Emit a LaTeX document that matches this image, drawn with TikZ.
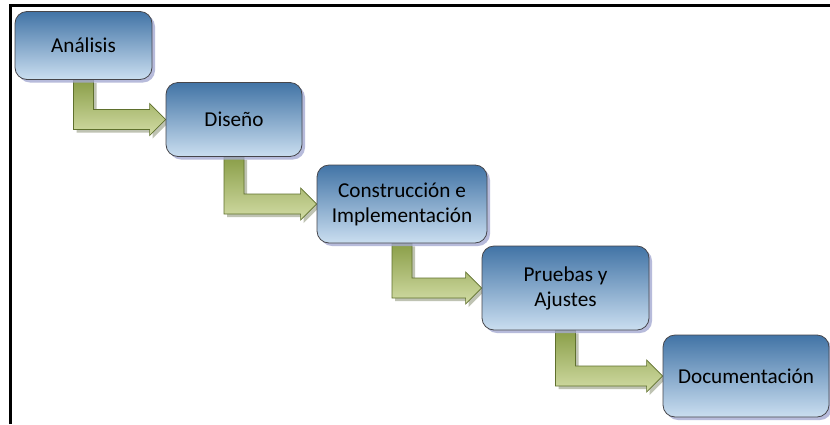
\documentclass[tikz,border=0pt]{standalone}
\usepackage{fontspec}
\setmainfont{Carlito}
\usetikzlibrary{calc,shadows,backgrounds}
\definecolor{boxtop}{RGB}{66,116,166}
\definecolor{boxbot}{RGB}{202,222,240}
\definecolor{boxline}{RGB}{70,70,75}
\definecolor{boxshadow}{RGB}{165,170,210}
\definecolor{arrtop}{RGB}{138,158,72}
\definecolor{arrbot}{RGB}{210,220,165}
\definecolor{arrline}{RGB}{95,112,45}
\definecolor{arrshadow}{RGB}{175,180,160}
\tikzset{
  stage/.style={draw=boxline, line width=0.8pt, rounded corners=12pt,
    top color=boxtop, bottom color=boxbot, align=center, inner sep=2pt,
    font=\fontsize{21.2}{25}\selectfont,
    general shadow={fill=boxshadow, opacity=0.8, shadow xshift=3pt, shadow yshift=-3pt}},
  flowarrow/.style={draw=arrline, line width=0.7pt, top color=arrtop, bottom color=arrbot,
    general shadow={fill=arrshadow, opacity=0.8, shadow xshift=3pt, shadow yshift=-3pt}},
  frameline/.style={line width=3pt, black}
}
\newcommand\flowstep[2]{%
  \path[flowarrow] let \p1=(#1.south), \p2=(#2.west) in
    (\x1-10pt,\y1) -- (\x1+10pt,\y1) -- (\x1+10pt,\y2+10pt) -- (\x2-16pt,\y2+10pt)
    -- (\x2-16pt,\y2+16pt) -- (\x2,\y2) -- (\x2-16pt,\y2-16pt) -- (\x2-16pt,\y2-10pt)
    -- (\x1-10pt,\y2-10pt) -- cycle;}
\begin{document}
\begin{tikzpicture}[x=1pt,y=-1pt]
\useasboundingbox (0,0) rectangle (830,424);
\coordinate (fA) at (10.5,424);
\coordinate (fB) at (10.5,5.5);
\coordinate (fC) at (830,5.5);
\draw[frameline] (fA) -- (fB) -- (fC);
\node[stage, minimum width=137pt, minimum height=68pt] (a) at (83.5,45.5) {Análisis};
\node[stage, minimum width=136pt, minimum height=74pt] (b) at (234,119.5) {Diseño};
\node[stage, minimum width=170pt, minimum height=78pt] (c) at (402,204) {Construcción e\\Implementación};
\node[stage, minimum width=167pt, minimum height=84pt] (d) at (565.5,288) {Pruebas y\\Ajustes};
\node[stage, minimum width=166pt, minimum height=82pt] (e) at (746,376) {Documentación};
\begin{scope}[on background layer]
\fill[white] (0,0) rectangle (830,424);
\flowstep{a}{b}
\flowstep{b}{c}
\flowstep{c}{d}
\flowstep{d}{e}
\end{scope}
\end{tikzpicture}
\end{document}
